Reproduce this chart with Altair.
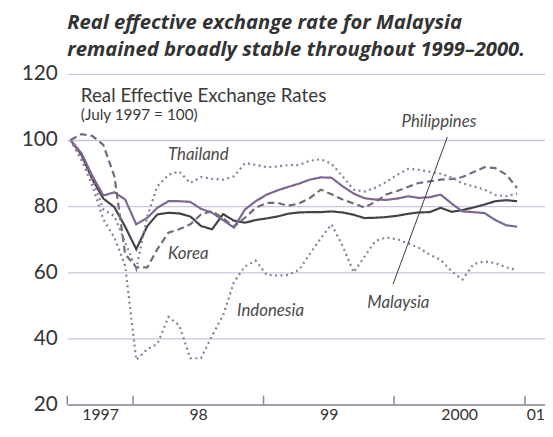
import altair as alt
import pandas as pd

# ---- data (monthly, July 1997 = 100) ----
start_month = "1997-07-01"
n_months = 42
malaysia = [100, 95.5, 88, 82.3, 79.7, 73.8, 67, 74, 77.5, 78, 77.8, 76.9, 74, 73, 77.6, 75.6,
            75, 75.8, 76.3, 76.9, 77.7, 78.1, 78.2, 78.2, 78.4, 78.1, 77.4, 76.4, 76.5, 76.7,
            77.1, 77.7, 78.1, 78.2, 79.5, 78.3, 78.8, 79.6, 80.5, 81.5, 81.8, 81.5]
philippines = [100, 96, 89, 83.2, 84.2, 82, 74.5, 76.5, 79.5, 81.5, 81.5, 81.3, 79.2, 78, 75.8,
               73.5, 79, 81.5, 83.5, 84.8, 85.8, 86.8, 88, 88.7, 88.6, 86, 83.8, 82.4, 82, 81.9,
               82.3, 83, 82.5, 82.7, 83.5, 80.8, 78.4, 78.2, 77.9, 75.8, 74.2, 73.8]
korea = [100, 101.8, 101.2, 98.5, 89, 65.5, 61.5, 61.5, 67, 72, 73, 74.5, 77.5, 78.5, 76.3,
         73.8, 76.5, 79.5, 81, 81, 80.1, 80.8, 82.4, 85, 83.6, 82, 80.8, 79.6, 81.3, 83.5,
         84.6, 85.9, 87, 87.5, 88, 88.2, 88.8, 90.3, 91.8, 91.5, 89.5, 85.5]
thailand = [100, 94, 88, 79, 77, 69, 61, 77, 86, 89.5, 90.5, 87, 88.8, 88.3, 88, 89, 93, 92.5,
            91.8, 92, 92.4, 92.4, 93.7, 94.2, 92.8, 89, 85, 84.4, 85.6, 87.3, 89.5, 91.3, 91,
            90.4, 89.8, 88.7, 86.9, 86, 85, 83.4, 83, 83.8]
indonesia = [100, 94, 86, 76, 70.5, 62, 33.5, 36.8, 38.3, 46.5, 44, 34, 34, 40.8, 47, 57, 61.8,
             63.5, 59.2, 59, 59.2, 60.7, 65.5, 70.3, 74.5, 68, 60, 64.7, 69.5, 70.5, 70, 68.7,
             67.4, 65.3, 63.8, 60.3, 57.8, 62.5, 63.3, 62.8, 61.5, 60.6]

series_names = ["Malaysia", "Philippines", "Korea", "Thailand", "Indonesia"]
series_values = [malaysia, philippines, korea, thailand, indonesia]
series_colors = ["#45414b", "#7b6791", "#73697e", "#8a7c9a", "#8a7c9a"]
series_dash = [[1, 0], [1, 0], [7, 4], [2, 3.5], [2, 3.5]]

year_tick_dates = ["1997-07-01", "1998-01-01", "1999-01-01", "2000-01-01", "2001-01-01"]
year_label_years = [1997, 1998, 1999, 2000, 2001]
year_label_text = ["1997", "98", "99", "2000", "01"]
year_label_dates = [(1997, 10, 1), (1998, 7, 2), (1999, 7, 2), (2000, 7, 1), (2001, 1, 30)]
y_ticks = [20, 40, 60, 80, 100, 120]

label_names = ["Thailand", "Korea", "Indonesia", "Malaysia", "Philippines"]
label_dates = ["1998-04-09", "1998-04-09", "1998-10-19", "1999-10-18", "2000-01-22"]
label_values = [95.6, 65.5, 48.2, 50.8, 105.5]

note_texts = ["Real Effective Exchange Rates", "(July 1997 = 100)"]
note_dates = ["1997-08-08", "1997-08-08"]
note_values = [113.3, 107.4]
note_sizes = [19, 15.5]

pointer = {"date": "2000-05-29", "value": 100.9, "date2": "1999-12-29", "value2": 56.4}

# ---- build tables ----
dates = pd.date_range(start_month, periods=n_months, freq="MS") + pd.Timedelta(days=9)
rows = []
for name, vals in zip(series_names, series_values):
    for d, v in zip(dates, vals):
        rows.append({"date": d.strftime("%Y-%m-%d"), "value": v, "country": name})
df = pd.DataFrame(rows)

x_scale = alt.Scale(domain=[alt.DateTime(year=1997, month=7, date=1),
                            alt.DateTime(year=2001, month=2, date=26)])
y_scale = alt.Scale(domain=[20, 120], nice=False, zero=False)

label_expr = " : ".join(
    f"year(datum.value) == {y} ? '{t}'" for y, t in zip(year_label_years, year_label_text)
) + " : ''"

x_axis = alt.Axis(
    values=[alt.DateTime(year=a, month=b, date=c) for a, b, c in year_label_dates],
    labelExpr=label_expr, ticks=False, tickSize=0, grid=False, title=None,
    domainColor="#8d8896", domainWidth=1.5, labelFont="Lato", labelFontSize=16,
    labelColor="#333333", labelPadding=2, labelAngle=0,
)
y_axis = alt.Axis(
    values=y_ticks, ticks=False, domain=False, title=None, grid=True,
    gridColor="#cdc3dc", gridWidth=1.3, labelFont="Lato", labelFontSize=21,
    labelColor="#333333", labelPadding=10,
)

base_line = alt.Chart(df).mark_line(strokeWidth=2.2).encode(
    x=alt.X("date:T", scale=x_scale, axis=x_axis),
    y=alt.Y("value:Q", scale=y_scale, axis=y_axis),
    color=alt.Color("country:N", scale=alt.Scale(domain=series_names, range=series_colors), legend=None),
    strokeDash=alt.StrokeDash("country:N", scale=alt.Scale(domain=series_names, range=series_dash), legend=None),
    detail="country:N",
)

ticks_df = pd.DataFrame({"date": year_tick_dates, "y": [20] * len(year_tick_dates),
                         "y2": [22.7] * len(year_tick_dates)})
ticks = alt.Chart(ticks_df).mark_rule(color="#8d8896", strokeWidth=1.5).encode(
    x=alt.X("date:T", scale=x_scale), y=alt.Y("y:Q", scale=y_scale), y2="y2:Q")

labels_df = pd.DataFrame({"date": label_dates, "value": label_values, "text": label_names})
labels = alt.Chart(labels_df).mark_text(
    align="left", baseline="middle", font="Lato", fontStyle="italic", fontSize=17, color="#4a4a4a"
).encode(x=alt.X("date:T", scale=x_scale), y=alt.Y("value:Q", scale=y_scale), text="text:N")

notes_df = pd.DataFrame({"date": note_dates, "value": note_values, "text": note_texts, "size": note_sizes})
notes = alt.Chart(notes_df).mark_text(
    align="left", baseline="middle", font="Lato", color="#3a3a3a"
).encode(x=alt.X("date:T", scale=x_scale), y=alt.Y("value:Q", scale=y_scale), text="text:N",
         size=alt.Size("size:Q", scale=None, legend=None))

pointer_df = pd.DataFrame([pointer])
pointer_line = alt.Chart(pointer_df).mark_rule(color="#3a3a3a", strokeWidth=1).encode(
    x=alt.X("date:T", scale=x_scale), x2="date2:T",
    y=alt.Y("value:Q", scale=y_scale), y2="value2:Q")

chart = alt.layer(ticks, base_line, pointer_line, labels, notes).properties(
    width=484, height=335,
    padding={"left": 60, "top": 64, "right": 0, "bottom": 22},
    autosize=alt.AutoSizeParams(type="none"),
    title=alt.Title(
        ["Real effective exchange rate for Malaysia", "remained broadly stable throughout 1999\u20132000."],
        anchor="start", frame="group", font="Open Sans", fontSize=20.5, fontStyle="italic",
        fontWeight="bold", color="#333333", lineHeight=27, offset=3,
    ),
).configure_view(stroke=None)

chart.save("out.html", embed_options={"renderer": "svg", "actions": False})
